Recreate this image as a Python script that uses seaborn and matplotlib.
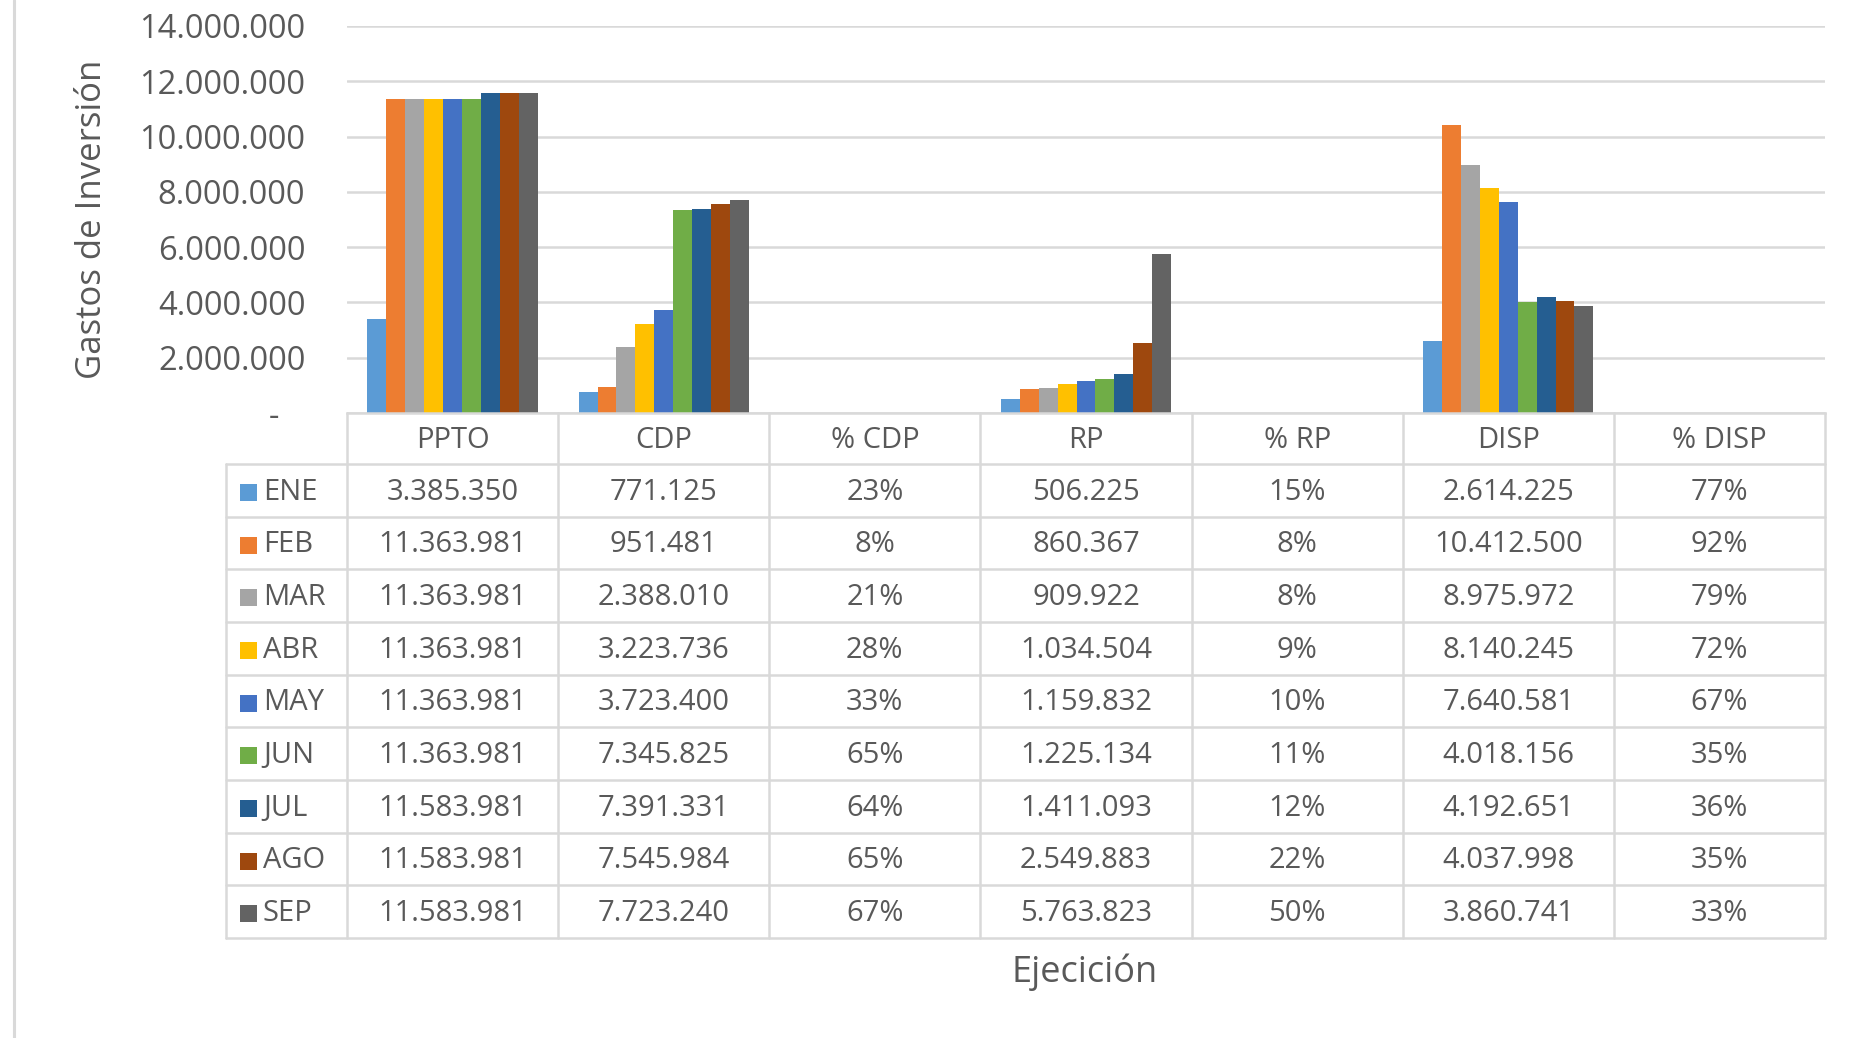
import numpy as np
import pandas as pd
import matplotlib
matplotlib.use("Agg")
import matplotlib.pyplot as plt
import matplotlib.transforms as mtransforms
from matplotlib.lines import Line2D
from matplotlib.patches import Rectangle
import seaborn as sns

# ---------------- data ----------------
categories = ["PPTO", "CDP", "% CDP", "RP", "% RP", "DISP", "% DISP"]
is_pct = [False, False, True, False, True, False, True]
months = ["ENE", "FEB", "MAR", "ABR", "MAY", "JUN", "JUL", "AGO", "SEP"]
ppto = [3385350, 11363981, 11363981, 11363981, 11363981, 11363981, 11583981, 11583981, 11583981]
cdp = [771125, 951481, 2388010, 3223736, 3723400, 7345825, 7391331, 7545984, 7723240]
pct_cdp = [23, 8, 21, 28, 33, 65, 64, 65, 67]
rp = [506225, 860367, 909922, 1034504, 1159832, 1225134, 1411093, 2549883, 5763823]
pct_rp = [15, 8, 8, 9, 10, 11, 12, 22, 50]
disp = [2614225, 10412500, 8975972, 8140245, 7640581, 4018156, 4192651, 4037998, 3860741]
pct_disp = [77, 92, 79, 72, 67, 35, 36, 35, 33]
colors = ["#5B9BD5", "#ED7D31", "#A5A5A5", "#FFC000", "#4472C4",
          "#70AD47", "#255E91", "#9E480E", "#636363"]
y_ticks = [0, 2000000, 4000000, 6000000, 8000000, 10000000, 12000000, 14000000]
y_label = "Gastos de Inversión"
x_label = "Ejecición"

series = [ppto, cdp, pct_cdp, rp, pct_rp, disp, pct_disp]

rows = []
for cat, vals, pct in zip(categories, series, is_pct):
    for m, v in zip(months, vals):
        rows.append({"cat": cat, "mes": m, "val": (v / 100.0 if pct else v)})
df = pd.DataFrame(rows)

def fmt_num(v):
    return f"{v:,}".replace(",", ".")

def fmt_cell(v, pct):
    return f"{v}%" if pct else fmt_num(v)

def fmt_tick(v):
    return "-   " if v == 0 else fmt_num(int(v))

# ---------------- style ----------------
sns.set_theme(style="white")
plt.rcParams["font.family"] = ["Open Sans", "DejaVu Sans"]
TXT = "#595959"
GRID = "#D9D9D9"

W, H = 1855, 1038
fig = plt.figure(figsize=(W / 100, H / 100), dpi=100)
ax_l, ax_r, ax_t, ax_b = 347, 1825, 26, 413
ax = fig.add_axes([ax_l / W, 1 - ax_b / H, (ax_r - ax_l) / W, (ax_b - ax_t) / H])

sns.barplot(data=df, x="cat", y="val", hue="mes", order=categories, hue_order=months,
            palette=colors, width=0.806, gap=0, saturation=1, legend=False,
            errorbar=None, linewidth=0, ax=ax)

ax.set_xlim(-0.5, len(categories) - 0.5)
ax.set_ylim(0, 14000000)
ax.set_yticks(y_ticks)
ax.set_yticklabels([fmt_tick(v) for v in y_ticks], fontsize=23.5, color=TXT)
ax.tick_params(axis="y", length=0, pad=30)
ax.set_xticks([])
ax.set_xlabel("")
ax.set_ylabel("")
ax.yaxis.grid(True, color=GRID, lw=1.8)
ax.set_axisbelow(True)
for s in ["left", "right", "top"]:
    ax.spines[s].set_visible(False)
ax.spines["bottom"].set_color(GRID)
ax.spines["bottom"].set_linewidth(1.8)

# ---------------- data table ----------------
def fy(px):
    return 1 - px / H

def fx(px):
    return px / W

trans_x = mtransforms.blended_transform_factory(ax.transData, fig.transFigure)
head_top, head_bot, tab_bot, leg_left = 413, 464, 938, 226
row_h = (tab_bot - head_bot) / len(months)
lw = 1.8
TFS = 21

# vertical lines at category boundaries
for j in range(len(categories) + 1):
    fig.add_artist(Line2D([j - 0.5, j - 0.5], [fy(head_top), fy(tab_bot)],
                          transform=trans_x, color=GRID, lw=lw))
# legend column left line
fig.add_artist(Line2D([fx(leg_left), fx(leg_left)], [fy(head_bot), fy(tab_bot)],
                      transform=fig.transFigure, color=GRID, lw=lw))
# horizontal lines
for k in range(len(months) + 1):
    yy = fy(head_bot + k * row_h)
    fig.add_artist(Line2D([fx(leg_left), fx(ax_r)], [yy, yy],
                          transform=fig.transFigure, color=GRID, lw=lw))

# header labels
for j, cat in enumerate(categories):
    fig.text(j, fy((head_top + head_bot) / 2 + 2), cat, transform=trans_x,
             ha="center", va="center", fontsize=TFS, color=TXT)

# rows
for k, (m, c) in enumerate(zip(months, colors)):
    yc = head_bot + (k + 0.5) * row_h + 2
    ks = 17
    fig.add_artist(Rectangle((fx(240), fy(yc + ks / 2)), ks / W, ks / H,
                             transform=fig.transFigure, facecolor=c, edgecolor="none"))
    fig.text(fx(263), fy(yc), m, ha="left", va="center", fontsize=TFS, color=TXT)
    for j, (vals, pct) in enumerate(zip(series, is_pct)):
        fig.text(j, fy(yc), fmt_cell(vals[k], pct), transform=trans_x,
                 ha="center", va="center", fontsize=TFS, color=TXT)

# axis titles
fig.text(fx(92), fy(219), y_label, rotation=90, ha="center", va="center",
         fontsize=25, color=TXT)
fig.text(fx(1085), fy(972), x_label, ha="center", va="center", fontsize=26, color=TXT)

# chart-area left border
fig.add_artist(Line2D([fx(14), fx(14)], [0, 1], transform=fig.transFigure,
                      color=GRID, lw=2.2))

fig.savefig("out.png", dpi=100, facecolor="white")
